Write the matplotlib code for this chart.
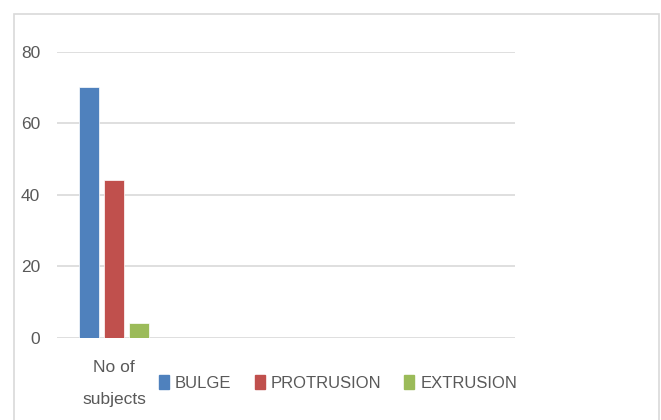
import matplotlib
matplotlib.use("Agg")
from matplotlib import pyplot as plt
from matplotlib.patches import Patch, Rectangle
import numpy as np

categories = ["No of\nsubjects", "", "", ""]
series_names = ["BULGE", "PROTRUSION", "EXTRUSION"]
bulge = [70, 0, 0, 0]
protrusion = [44, 0, 0, 0]
extrusion = [4, 0, 0, 0]
colors = ["#4F81BD", "#C0504D", "#9BBB59"]
yticks = [0, 20, 40, 60, 80]

plt.rcParams["font.family"] = ["Liberation Sans", "DejaVu Sans"]
text_color = "#595959"

fig = plt.figure(figsize=(6.61, 4.2), dpi=100)
ax = fig.add_axes([57 / 661, 1 - 337.7 / 420, (515 - 57) / 661, (337.7 - 51.7) / 420])

x = np.arange(len(categories))
width = 0.175
offset = 0.218
for i, (vals, name) in enumerate(zip([bulge, protrusion, extrusion], series_names)):
    ax.bar(x + (i - 1) * offset, vals, width, color=colors[i], label=name,
           edgecolor="white", linewidth=0.5, zorder=3)

ax.set_xlim(-0.5, 3.5)
ax.set_ylim(0, 80)
ax.set_yticks(yticks)
ax.set_xticks(x)
ax.set_xticklabels(categories, linespacing=2.4)
ax.tick_params(length=0, labelsize=12.5, colors=text_color)
ax.tick_params(axis="y", pad=12)
ax.tick_params(axis="x", pad=16)
ax.grid(axis="y", color="#D9D9D9", linewidth=1.2, zorder=0)
for s in ax.spines.values():
    s.set_visible(False)

handles = [Patch(color=c) for c in colors]
fig.legend(handles, series_names, loc="center left", bbox_to_anchor=(144 / 661, 1 - 383 / 420),
           ncol=3, frameon=False, fontsize=12, handlelength=0.6, handleheight=0.9,
           handletextpad=0.35, columnspacing=1.4, labelcolor=text_color)

fig.patches.append(Rectangle((14 / 661, -0.05), 645 / 661, 1.05 - 14 / 420,
                             transform=fig.transFigure, fill=False,
                             edgecolor="#D9D9D9", linewidth=1.2))

fig.savefig("out.png", dpi=100, facecolor="white")
